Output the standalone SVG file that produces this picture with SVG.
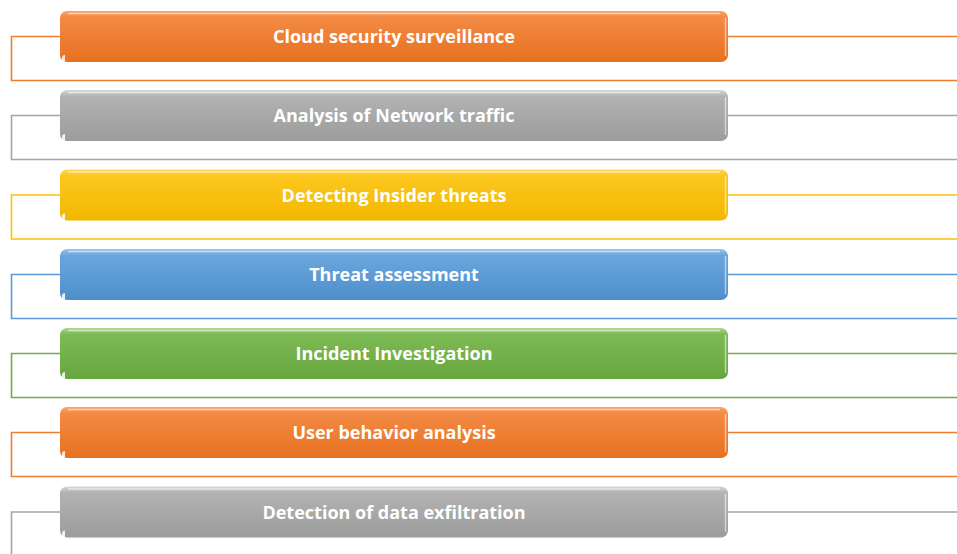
<svg xmlns="http://www.w3.org/2000/svg" width="957" height="554" viewBox="0 0 957 554">
<defs>
<linearGradient id="gO" x1="0" y1="0" x2="0" y2="1"><stop offset="0" stop-color="#F8A66A"/><stop offset="0.12" stop-color="#F38A45"/><stop offset="1" stop-color="#E8711F"/></linearGradient>
<linearGradient id="gG" x1="0" y1="0" x2="0" y2="1"><stop offset="0" stop-color="#D8D8D8"/><stop offset="0.12" stop-color="#B2B2B2"/><stop offset="1" stop-color="#9C9C9C"/></linearGradient>
<linearGradient id="gY" x1="0" y1="0" x2="0" y2="1"><stop offset="0" stop-color="#FFD75A"/><stop offset="0.12" stop-color="#FCC71E"/><stop offset="1" stop-color="#F2B800"/></linearGradient>
<linearGradient id="gB" x1="0" y1="0" x2="0" y2="1"><stop offset="0" stop-color="#9CC3EA"/><stop offset="0.12" stop-color="#6AA6DD"/><stop offset="1" stop-color="#4E8FCB"/></linearGradient>
<linearGradient id="gN" x1="0" y1="0" x2="0" y2="1"><stop offset="0" stop-color="#A9D88A"/><stop offset="0.12" stop-color="#7DBA54"/><stop offset="1" stop-color="#67A63F"/></linearGradient>
</defs>
<style>
.lbl{font-family:"Open Sans","Liberation Sans",sans-serif;font-weight:bold;font-size:18px;fill:#FFFFFF;text-anchor:middle}
.ln{fill:none;stroke-width:1.6}
.hl{fill:none;stroke:#FFFFFF;stroke-opacity:0.55;stroke-width:1.5}
.nt{fill:#FFFFFF;fill-opacity:0.85}
.o{stroke:#ED7D31}.g{stroke:#A5A5A5}.y{stroke:#FFC000}.b{stroke:#5B9BD5}.n{stroke:#70AD47}
</style>
<g id="connectors">
<path class="ln o" d="M60 36.5H11.5V80.5H957M728 36.5H957"/>
<path class="ln g" d="M60 115.5H11.5V159.5H957M728 115.5H957"/>
<path class="ln y" d="M60 195H11.5V239H957M728 195H957"/>
<path class="ln b" d="M60 274.5H11.5V318.5H957M728 274.5H957"/>
<path class="ln n" d="M60 353.5H11.5V397.5H957M728 353.5H957"/>
<path class="ln o" d="M60 432.5H11.5V476.5H957M728 432.5H957"/>
<path class="ln g" d="M60 512H11.5V556H957M728 512H957"/>
</g>
<g id="n1"><rect x="60" y="11" width="668" height="51" rx="7" fill="url(#gO)"/><path class="hl" d="M68 13.5H720M725.5 18V56"/><path class="nt" d="M62 62V58A3 3 0 0 1 65 55V62Z"/><text class="lbl" x="394" y="43">Cloud security surveillance</text></g>
<g id="n2"><rect x="60" y="90" width="668" height="51" rx="7" fill="url(#gG)"/><path class="hl" d="M68 92.5H720M725.5 97V135"/><path class="nt" d="M62 141V137A3 3 0 0 1 65 134V141Z"/><text class="lbl" x="394" y="122">Analysis of Network traffic</text></g>
<g id="n3"><rect x="60" y="169.5" width="668" height="51" rx="7" fill="url(#gY)"/><path class="hl" d="M68 172H720M725.5 176.5V214.5"/><path class="nt" d="M62 220.5V216.5A3 3 0 0 1 65 213.5V220.5Z"/><text class="lbl" x="394" y="201.5">Detecting Insider threats</text></g>
<g id="n4"><rect x="60" y="249" width="668" height="51" rx="7" fill="url(#gB)"/><path class="hl" d="M68 251.5H720M725.5 256V294"/><path class="nt" d="M62 300V296A3 3 0 0 1 65 293V300Z"/><text class="lbl" x="394" y="281">Threat assessment</text></g>
<g id="n5"><rect x="60" y="328" width="668" height="51" rx="7" fill="url(#gN)"/><path class="hl" d="M68 330.5H720M725.5 335V373"/><path class="nt" d="M62 379V375A3 3 0 0 1 65 372V379Z"/><text class="lbl" x="394" y="360">Incident Investigation</text></g>
<g id="n6"><rect x="60" y="407" width="668" height="51" rx="7" fill="url(#gO)"/><path class="hl" d="M68 409.5H720M725.5 414V452"/><path class="nt" d="M62 458V454A3 3 0 0 1 65 451V458Z"/><text class="lbl" x="394" y="439">User behavior analysis</text></g>
<g id="n7"><rect x="60" y="486.5" width="668" height="51" rx="7" fill="url(#gG)"/><path class="hl" d="M68 489H720M725.5 493.5V531.5"/><path class="nt" d="M62 537.5V533.5A3 3 0 0 1 65 530.5V537.5Z"/><text class="lbl" x="394" y="518.5">Detection of data exfiltration</text></g>
</svg>
